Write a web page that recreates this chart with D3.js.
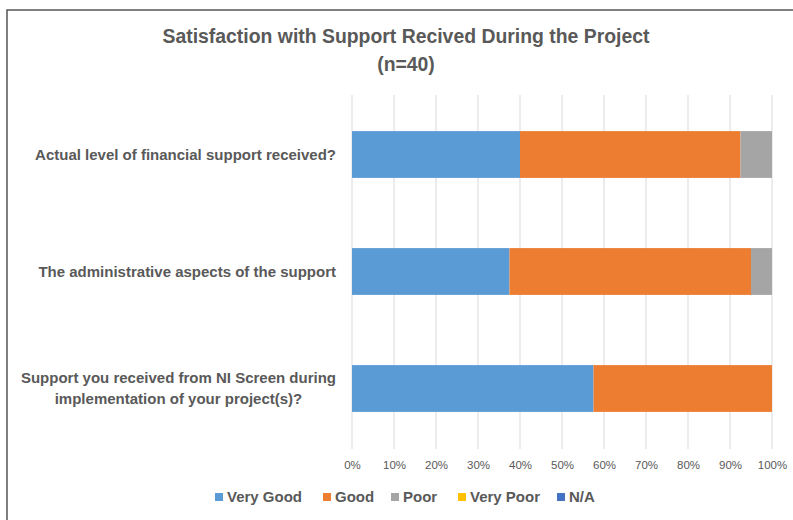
<!DOCTYPE html>
<html>
<head>
<meta charset="utf-8">
<script src="https://cdn.jsdelivr.net/npm/d3@7"></script>
<style>
  body { margin: 0; background: #fff; }
  svg { display: block; font-family: "Liberation Sans", sans-serif; }
</style>
</head>
<body>
<svg id="chart" width="793" height="520"></svg>
<script>
const categories = [
  "Actual level of financial support received?",
  "The administrative aspects of the support",
  "Support you received from NI Screen during implementation of your project(s)?"
];
const seriesNames = ["Very Good", "Good", "Poor", "Very Poor", "N/A"];
const seriesColors = ["#5B9BD5", "#ED7D31", "#A5A5A5", "#FFC000", "#4472C4"];
// share of respondents per category (n=40)
const veryGood = [0.400, 0.375, 0.575];
const good     = [0.525, 0.575, 0.425];
const poor     = [0.075, 0.050, 0.000];
const veryPoor = [0, 0, 0];
const na       = [0, 0, 0];
const xTicks = [0, 0.1, 0.2, 0.3, 0.4, 0.5, 0.6, 0.7, 0.8, 0.9, 1];
// category labels are split the way the original wraps them
const labelLines = [
  ["Actual level of financial support received?"],
  ["The administrative aspects of the support"],
  ["Support you received from NI Screen during", "implementation of your project(s)?"]
];

const svg = d3.select("#chart");
const textCol = "#595959";

// chart frame (cut off at right and bottom like the screenshot)
svg.append("rect").attr("x", 7).attr("y", 10).attr("width", 800).attr("height", 520)
  .attr("fill", "none").attr("stroke", "#555").attr("stroke-width", 1.5);

svg.append("text").attr("x", 406).attr("y", 43).attr("text-anchor", "middle")
  .attr("font-size", 19.4).attr("font-weight", "bold").attr("fill", textCol)
  .text("Satisfaction with Support Recived During the Project");
svg.append("text").attr("x", 406).attr("y", 71).attr("text-anchor", "middle")
  .attr("font-size", 19.4).attr("font-weight", "bold").attr("fill", textCol)
  .text("(n=40)");

const x = d3.scaleLinear().domain([0, 1]).range([352, 772]);
const y = d3.scaleBand().domain(categories).range([96, 447]).paddingInner(0.6).paddingOuter(0.3);

// gridlines
svg.append("g").selectAll("line").data(xTicks).enter().append("line")
  .attr("x1", d => x(d)).attr("x2", d => x(d))
  .attr("y1", 95).attr("y2", 449)
  .attr("stroke", "#d9d9d9").attr("stroke-width", 1);

const rows = categories.map((c, i) => ({ cat: c, "Very Good": veryGood[i], "Good": good[i], "Poor": poor[i], "Very Poor": veryPoor[i], "N/A": na[i] }));
const stacked = d3.stack().keys(seriesNames)(rows);

svg.append("g").selectAll("g").data(stacked).enter().append("g")
  .attr("fill", (d, i) => seriesColors[i])
  .selectAll("rect").data(d => d).enter().append("rect")
  .attr("x", d => x(d[0]))
  .attr("width", d => x(d[1]) - x(d[0]))
  .attr("y", d => y(d.data.cat))
  .attr("height", y.bandwidth());

// x axis labels
const xAxis = d3.axisBottom(x).tickValues(xTicks).tickFormat(d3.format(".0%")).tickSize(0).tickPadding(0);
const ax = svg.append("g").attr("transform", "translate(0,461)").call(xAxis);
ax.select(".domain").remove();
ax.selectAll("text").attr("fill", textCol).attr("font-size", 11.5)
  .attr("font-family", "'Liberation Sans', sans-serif");

// category labels: block right-aligned to the plot, lines centred in the block
const labelRight = 336;
const lab = svg.append("g").selectAll("text").data(categories).enter().append("text")
  .attr("text-anchor", "middle")
  .attr("font-size", 15).attr("font-weight", "bold").attr("fill", textCol);
lab.each(function (d, i) {
  const lines = labelLines[i];
  const cy = y(d) + y.bandwidth() / 2;
  const t = d3.select(this);
  const spans = lines.map((ln, j) => t.append("tspan")
    .attr("y", cy + (j - (lines.length - 1) / 2) * 21 + 5)
    .text(ln));
  const w = d3.max(spans, s => s.node().getComputedTextLength());
  spans.forEach(s => s.attr("x", labelRight - w / 2));
});

// legend
const legendX = [215, 323, 391, 458, 557];
const leg = svg.append("g").selectAll("g").data(seriesNames).enter().append("g")
  .attr("transform", (d, i) => `translate(${legendX[i]},492)`);
leg.append("rect").attr("width", 8).attr("height", 8).attr("y", 1)
  .attr("fill", (d, i) => seriesColors[i]);
leg.append("text").attr("x", 12).attr("y", 10).attr("font-size", 15).attr("font-weight", "bold")
  .attr("fill", textCol).text(d => d);
</script>
</body>
</html>
